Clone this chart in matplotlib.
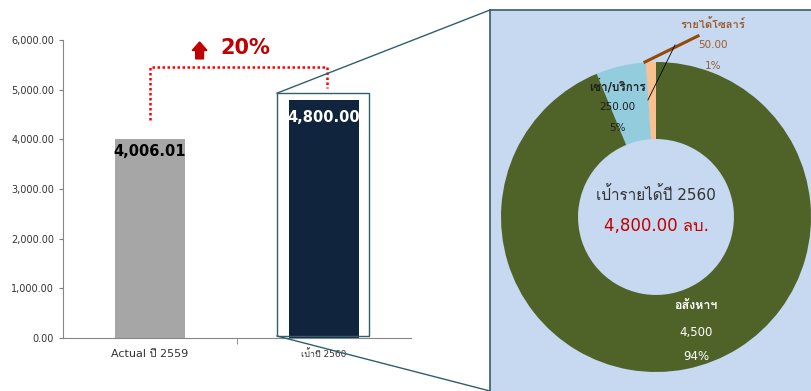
import numpy as np
import matplotlib
matplotlib.use("Agg")
import matplotlib.pyplot as plt
from matplotlib import font_manager
from matplotlib.ft2font import FT2Font
from matplotlib.patches import Rectangle, FancyArrow
from matplotlib.lines import Line2D
from matplotlib.ticker import FuncFormatter, FixedLocator


# find any installed family that has Thai glyphs
thai_family = None
for f in font_manager.fontManager.ttflist:
    try:
        if 0x0E01 in FT2Font(f.fname).get_charmap():
            thai_family = f.name
            break
    except Exception:
        pass
fams = ["DejaVu Sans"] + ([thai_family] if thai_family else [])
plt.rcParams["font.family"] = fams


# data
bar_labels = ["Actual ปี 2559", "เป้าปี 2560"]
bar_values = [4006.01, 4800.00]
bar_colors = ["#a6a6a6", "#10243e"]
growth_pct = 20

pie_names = ["รายได้โซลาร์", "เช่า/บริการ", "อสังหาฯ"]
pie_values = [50, 250, 4500]
pie_value_text = ["50.00", "250.00", "4,500"]
pie_colors = ["#fac090", "#93cddd", "#4f6228"]
target_title = "เป้ารายได้ปี 2560"
target_text = "4,800.00 ลบ."


fig = plt.figure(figsize=(8.11, 3.91), dpi=100)
W, H = 811, 391

# right panel background
fig.patches.append(Rectangle((490 / W, 0), 1 - 490 / W, (391 - 10) / H,
                             transform=fig.transFigure, facecolor="#c6d9f0",
                             edgecolor="none", zorder=-5))
fig.lines.append(Line2D([490 / W, 490 / W], [0, 381 / H], transform=fig.transFigure,
                        color="#2f5f6c", lw=1.2, zorder=-4))
fig.lines.append(Line2D([490 / W, 1], [381 / H, 381 / H], transform=fig.transFigure,
                        color="#2f5f6c", lw=1.2, zorder=-4))

# bar chart
ax = fig.add_axes([63 / W, 53 / H, 348 / W, 298 / H])
x = np.arange(len(bar_values))
ax.bar(x, bar_values, width=0.4, color=bar_colors, zorder=2)
ax.set_xlim(-0.5, 1.5)
ax.set_ylim(0, 6000)
ax.set_yticks(np.arange(0, 6001, 1000))
ax.yaxis.set_major_formatter(FuncFormatter(lambda v, p: f"{v:,.2f}"))
ax.tick_params(axis="y", labelsize=7, colors="#333333", length=3, color="#7f7f7f")
ax.set_xticks(x)
ax.set_xticklabels(bar_labels)
ax.tick_params(axis="x", length=0, pad=8, colors="#333333")
ax.get_xticklabels()[0].set_fontsize(8)
ax.get_xticklabels()[1].set_fontsize(6.5)
ax.xaxis.set_minor_locator(FixedLocator([0.5]))
ax.tick_params(axis="x", which="minor", length=4, color="#7f7f7f")
for s in ["top", "right"]:
    ax.spines[s].set_visible(False)
for s in ["left", "bottom"]:
    ax.spines[s].set_color("#868686")

ax.text(0, bar_values[0] - 260, f"{bar_values[0]:,.2f}", ha="center", va="center",
        fontsize=10.5, fontweight="bold", color="black", zorder=3)
ax.text(1, bar_values[1] - 360, f"{bar_values[1]:,.2f}", ha="center", va="center",
        fontsize=10.5, fontweight="bold", color="white", zorder=3)

# growth bracket
ax.plot([0, 0, 1.02, 1.02], [4380, 5450, 5450, 5030], color="red", ls=(0, (1, 1)),
        lw=1.8, clip_on=False)
ax.add_patch(FancyArrow(0.285, 5620, 0, 340, width=0.045, head_width=0.085,
                        head_length=170, length_includes_head=True,
                        color="#c00000", clip_on=False))
ax.text(0.55, 5835, f"{growth_pct}%", ha="center", va="center", fontsize=15,
        fontweight="bold", color="#c00000", clip_on=False)

# frame around target bar
box = Rectangle((0.73, 40), 0.53, bar_values[1] + 90, fill=False,
                edgecolor="#2f5f6c", lw=1, zorder=4, clip_on=False)
ax.add_patch(box)
x0, y0 = fig.transFigure.inverted().transform(ax.transData.transform((0.73, 40)))
x1, y1 = fig.transFigure.inverted().transform(ax.transData.transform((0.73, bar_values[1] + 130)))
fig.lines.append(Line2D([x1, 490 / W], [y1, 381 / H], transform=fig.transFigure,
                        color="#2f5f6c", lw=1))
fig.lines.append(Line2D([x0, 490 / W], [y0, 0], transform=fig.transFigure,
                        color="#2f5f6c", lw=1))

# donut
pax = fig.add_axes([501 / W, 19 / H, 310 / W, 310 / H])
pax.pie(pie_values, colors=pie_colors, startangle=90, counterclock=True,
        radius=1, wedgeprops=dict(width=0.497, edgecolor="none"))
pax.set_xlim(-1, 1)
pax.set_ylim(-1, 1)
pax.set_aspect("equal")
pax.axis("off")

total = sum(pie_values)
pct = [f"{round(v / total * 100):.0f}%" for v in pie_values]

brown = "#9c5a2c"
pax.plot([-0.071, 0.271], [1.0, 1.168], color="#984806", lw=2.2, clip_on=False)
pax.plot([0.123, -0.052], [1.11, 0.755], color="black", lw=0.6, clip_on=False)
pax.text(0.368, 1.245, pie_names[0], ha="center", va="center", fontsize=8,
         color=brown, fontweight="bold", clip_on=False)
pax.text(0.368, 1.11, pie_value_text[0], ha="center", va="center", fontsize=7.5,
         color=brown, clip_on=False)
pax.text(0.368, 0.974, pct[0], ha="center", va="center", fontsize=7.5,
         color=brown, clip_on=False)

pax.text(-0.252, 0.845, pie_names[1], ha="center", va="center", fontsize=8.5,
         color="#1f1f1f", fontweight="bold")
pax.text(-0.252, 0.71, pie_value_text[1], ha="center", va="center", fontsize=7.5,
         color="#1f1f1f")
pax.text(-0.252, 0.574, pct[1], ha="center", va="center", fontsize=7.5,
         color="#1f1f1f")

pax.text(0.258, -0.574, pie_names[2], ha="center", va="center", fontsize=9,
         color="white", fontweight="bold")
pax.text(0.258, -0.742, pie_value_text[2], ha="center", va="center", fontsize=8.5,
         color="white")
pax.text(0.258, -0.903, pct[2], ha="center", va="center", fontsize=8.5,
         color="white")

pax.text(0, 0.148, target_title, ha="center", va="center", fontsize=11,
         color="#333333")
pax.text(0, -0.058, target_text, ha="center", va="center", fontsize=12,
         color="#c00000")

fig.savefig("out.png", dpi=100)
